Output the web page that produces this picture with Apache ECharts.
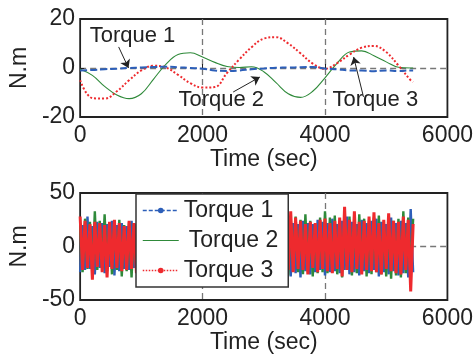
<!DOCTYPE html>
<html>
<head>
<meta charset="utf-8">
<script src="https://cdn.jsdelivr.net/npm/echarts@6/dist/echarts.min.js"></script>
<style>
  html, body { margin: 0; padding: 0; background: #fff; }
  #chart { width: 476px; height: 357px; }
</style>
</head>
<body>
<div id="chart"></div>
<script>
// upper plot: slow torque curves (sec, N.m)
const topTime = [0, 200, 400, 600, 800, 1000, 1200, 1400, 1600, 1800, 2000, 2200, 2400, 2600, 2800,
  3000, 3200, 3400, 3600, 3800, 4000, 4200, 4400, 4600, 4800, 5000, 5200, 5400, 5440]
const torque1Top = [-1, -0.8, -0.5, -0.3, 0, 0.2, 0.4, 0.5, 0.3, 0, -0.3, -1, -1.2, -1, -0.5,
  -0.2, 0.1, 0.2, 0.3, 0.4, -0.2, -0.5, -1, -1, -1.3, -1, -1.2, -1, -1]
const torque2Top = [-0.5, -3, -7.5, -11, -12.5, -10.5, -4.5, 1.5, 5.5, 6.2, 4.5, 2.3, 0.6, 0.2, 0.5,
  -1.5, -6, -10.5, -12, -9.5, -4, 2, 6.5, 7, 5, 2.5, 0.3, 0, 0]
const torque3Top = [-5, -12.3, -12.5, -9.5, -5, -1, 0.9, 0.2, -2.8, -6.2, -8, -7.8, -2, 3.5, 8.5,
  12, 12.6, 10, 6, 1.8, -0.3, 2, 5.5, 8.3, 9, 6.5, 1, -5, -5.7]

// annotations of the upper plot (data coordinates)
const noteText = ['Torque 1', 'Torque 2', 'Torque 3']
const notePos = [[855, 13.1], [2306, -13.1], [4823, -13.1]]
const arrowFrom = [[629, 8.6], [2500, -9.8], [4629, -11.8]]
const arrowTo = [[790, 0], [2935, -3.7], [4468, 4.5]]

// lower plot: noisy torques, one sample every 40 sec
const noiseStep = 40
const torque1Noise = [
  -24, 20, -22, 28, -21, 19, -26, 23, -20, 22,
  -25, 21, -19, 24, -27, 20, -23, 22, -21, 19,
  -22, 24, -20, 21, -23, 19, -24, 20, -22, 23,
  -21, 20, -24, 22, -19, 23, -20, 21, -22, 24,
  -23, 19, -21, 22, -24, 20, -22, 23, -20, 21,
  -24, 22, -20, 21, -23, 19, -22, 24, -21, 20,
  -22, 23, -24, 20, -21, 22, -19, 24, -23, 21,
  -20, 22, -23, 21, -24, 20, -22, 19, -21, 23,
  -24, 21, -22, 20, -26, 23, -28, 22, -25, 21,
  -29, 24, -23, 22, -26, 21, -24, 25, -22, 23,
  -27, 22, -24, 26, -23, 21, -25, 24, -22, 28,
  -26, 23, -24, 21, -27, 25, -23, 22, -25, 24,
  -22, 26, -28, 23, -24, 21, -26, 27, -23, 22,
  -27, 24, -25, 22, -29, 35, -24]
const torque2Noise = [
  22, -24, 26, -21, 23, -25, 33, -22, 24, -20,
  30, -23, 21, -26, 24, -22, 25, -28, 20, -23,
  23, -29, 22, -21, 24, -25, 20, -22, 23, -24,
  21, -22, 24, -20, 23, -21, 22, -24, 20, -23,
  24, -21, 22, -23, 20, -24, 21, -22, 23, -20,
  22, -24, 21, -20, 23, -22, 24, -21, 20, -23,
  21, -22, 23, -24, 20, -21, 22, -23, 24, -20,
  23, -21, 20, -22, 24, -23, 21, -20, 22, -24,
  22, -23, 25, -21, 24, -27, 26, -22, 28, -24,
  25, -26, 30, -23, 24, -28, 22, -25, 27, -24,
  33, -25, 27, -24, 29, -26, 23, -29, 25, -22,
  28, -27, 24, -25, 30, -23, 26, -28, 24, -26,
  27, -24, 29, -26, 23, -28, 25, -30, 24, -27,
  26, -29, 33, -25, 27, -24, 26]
const torque3Noise = [
  28, -22, 24, -20, 21, -31, 23, -19, 22, -24,
  20, -29, 23, -21, 25, -20, 22, -23, 19, -22,
  24, -21, 22, -25, 21, -19, 23, -22, 20, -24,
  22, -20, 24, -21, 19, -23, 22, -20, 25, -22,
  21, -24, 20, -22, 23, -19, 22, -21, 24, -20,
  22, -23, 21, -20, 24, -22, 19, -24, 22, -21,
  23, -20, 21, -24, 22, -19, 24, -22, 20, -23,
  22, -21, 24, -20, 21, -23, 22, -24, 20, -22,
  23, -20, 22, -25, 21, -22, 33, -24, 27, -21,
  24, -22, 21, -26, 23, -20, 22, -24, 25, -21,
  26, -23, 22, -25, 24, -21, 27, -28, 37, -22,
  25, -24, 33, -21, 23, -26, 24, -22, 28, -23,
  32, -24, 22, -26, 25, -21, 31, -23, 24, -25,
  23, -26, 28, -22, 25, -42, 21]

const BLUE = '#2d5fb9'
const GREEN = '#2f8a3a'
const RED = '#ee2a2e'
const INK = '#222'
const FONT = 'Liberation Sans'

function pairs(xs, ys) {
  return ys.map((v, i) => [xs[i], v])
}
function noisePairs(ys) {
  return ys.map((v, i) => [i * noiseStep, v])
}

function makeX(idx, bottomName) {
  return {
    type: 'value',
    gridIndex: idx,
    min: 0,
    max: 6000,
    interval: 2000,
    name: bottomName,
    nameLocation: 'middle',
    nameGap: 29,
    nameTextStyle: { fontSize: 23, color: INK, fontFamily: FONT },
    axisLine: { show: false },
    axisTick: { inside: true, length: 4, lineStyle: { color: INK } },
    axisLabel: { fontSize: 23, color: INK, fontFamily: FONT, margin: 7, formatter: v => String(v) },
    splitLine: {
      show: true,
      showMinLine: false,
      showMaxLine: false,
      lineStyle: { color: '#777', type: [6, 4], width: 1.3 }
    }
  }
}
function makeY(idx, lim) {
  return {
    type: 'value',
    gridIndex: idx,
    min: -lim,
    max: lim,
    interval: lim,
    name: 'N.m',
    nameLocation: 'middle',
    nameGap: 44,
    nameTextStyle: { fontSize: 23, color: INK, fontFamily: FONT },
    axisLine: { show: false },
    axisTick: { inside: true, length: 4, lineStyle: { color: INK } },
    axisLabel: { fontSize: 23, color: INK, fontFamily: FONT, margin: 5, formatter: v => String(v) },
    splitLine: {
      show: true,
      showMinLine: false,
      showMaxLine: false,
      lineStyle: { color: '#777', type: [6, 4], width: 1.3 }
    }
  }
}

const chartObj = echarts.init(document.getElementById('chart'), null, { renderer: 'canvas' })

const option = {
  animation: false,
  grid: [
    { left: 78, top: 19, width: 372, height: 98, show: true, borderColor: INK, borderWidth: 1.8, backgroundColor: 'transparent' },
    { left: 78, top: 193, width: 372, height: 107, show: true, borderColor: INK, borderWidth: 1.8, backgroundColor: 'transparent' }
  ],
  xAxis: [makeX(0, 'Time (sec)'), makeX(1, 'Time (sec)')],
  yAxis: [makeY(0, 20), makeY(1, 50)],
  legend: {
    orient: 'vertical',
    left: 136,
    top: 194,
    padding: [5, 10, 5, 6],
    itemGap: 7,
    itemWidth: 36,
    itemHeight: 7,
    backgroundColor: '#fff',
    borderColor: '#333',
    borderWidth: 1.5,
    textStyle: { fontSize: 23, color: INK, fontFamily: FONT },
    data: [
      { name: 'Torque 1', lineStyle: { color: BLUE, type: [4, 2], width: 1.5 } },
      {
        name: 'Torque 2',
        lineStyle: { color: GREEN, type: 'solid', width: 1.2 },
        itemStyle: { color: 'rgba(0,0,0,0)', borderWidth: 0, opacity: 0 },
        textStyle: { padding: [0, 0, 0, 5] }
      },
      { name: 'Torque 3', lineStyle: { color: RED, type: [1.5, 1.5], width: 1.5 } }
    ]
  },
  series: [
    // lower plot first, so the legend takes its icons from these
    {
      name: 'Torque 1', type: 'line', xAxisIndex: 1, yAxisIndex: 1,
      data: noisePairs(torque1Noise),
      symbol: 'circle', symbolSize: 4, showSymbol: false,
      itemStyle: { color: BLUE },
      lineStyle: { color: BLUE, width: 2.4 }
    },
    {
      name: 'Torque 2', type: 'line', xAxisIndex: 1, yAxisIndex: 1,
      data: noisePairs(torque2Noise),
      symbol: 'none',
      itemStyle: { color: GREEN },
      lineStyle: { color: GREEN, width: 2.4 }
    },
    {
      name: 'Torque 3', type: 'line', xAxisIndex: 1, yAxisIndex: 1,
      data: noisePairs(torque3Noise),
      symbol: 'circle', symbolSize: 4, showSymbol: false,
      itemStyle: { color: RED },
      lineStyle: { color: RED, width: 3 }
    },
    // upper plot
    {
      name: 'Torque 1', type: 'line', xAxisIndex: 0, yAxisIndex: 0,
      data: pairs(topTime, torque1Top), smooth: 0.4, showSymbol: false,
      itemStyle: { color: BLUE },
      lineStyle: { color: BLUE, width: 2, type: [7, 3] },
      z: 4
    },
    {
      name: 'Torque 2', type: 'line', xAxisIndex: 0, yAxisIndex: 0,
      data: pairs(topTime, torque2Top), smooth: 0.4, showSymbol: false,
      itemStyle: { color: GREEN },
      lineStyle: { color: GREEN, width: 1.1 }
    },
    {
      name: 'Torque 3', type: 'line', xAxisIndex: 0, yAxisIndex: 0,
      data: pairs(topTime, torque3Top), smooth: 0.4, showSymbol: false,
      itemStyle: { color: RED },
      lineStyle: { color: RED, width: 2, type: [2, 2] },
      markLine: {
        silent: true,
        symbol: ['none', 'arrow'],
        symbolSize: 8,
        label: { show: false },
        lineStyle: { color: INK, width: 1, type: 'solid' },
        data: arrowFrom.map((p, i) => [{ coord: p }, { coord: arrowTo[i] }])
      },
      markPoint: {
        silent: true,
        symbol: 'circle',
        symbolSize: 1,
        itemStyle: { color: 'rgba(0,0,0,0)' },
        label: {
          show: true, position: 'inside', formatter: '{b}',
          fontSize: 22, color: INK, fontFamily: FONT
        },
        data: noteText.map((t, i) => ({ name: t, coord: notePos[i] }))
      }
    }
  ]
}

chartObj.setOption(option, true)
</script>
</body>
</html>
